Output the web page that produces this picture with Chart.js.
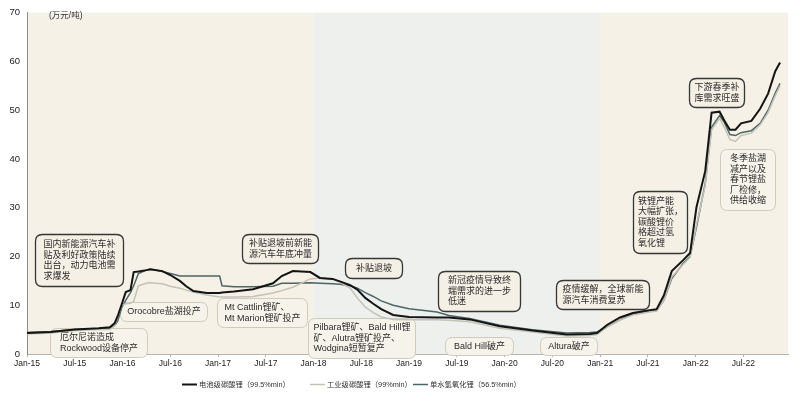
<!DOCTYPE html>
<html><head><meta charset="utf-8">
<script src="https://cdn.jsdelivr.net/npm/chart.js@4.4.0/dist/chart.umd.min.js"></script>
<style>html,body{margin:0;padding:0;background:#fff;}canvas{display:block}</style>
</head><body>
<canvas id="c" width="800" height="394"></canvas>
<script>
// months since Jan-2015
const months = [0,3,6,9,10.4,11,11.4,11.9,12.4,13,13.4,14,15,15.5,17,18,19.2,20,20.9,22.6,24.2,24.5,26,28.4,30.9,32,33.4,35.6,36.8,38.4,39.3,40.6,41.5,42.5,43.5,44.5,46,48,51.5,53,55.6,59.4,63.5,67.8,70.7,71.6,72.9,74.5,76.1,78.2,79.1,80,81,82.4,83.3,84.1,85.2,86,87,87.6,88.3,89,89.7,91,92.1,93.1,94,94.6];
const batteryCarbonate = [4.3,4.5,5.0,5.3,5.5,6.3,7.8,10.2,12.7,13.1,16.8,16.9,17.2,17.4,17.0,16.2,15.0,13.9,12.9,12.5,12.5,12.6,12.8,13.3,14.5,16.0,17.0,16.8,15.6,15.4,14.9,14.1,13.2,11.5,10.3,9.2,8.0,7.6,7.5,7.5,7.1,5.7,4.8,4.0,4.1,4.3,6.0,7.5,8.4,9.0,9.2,12.0,17.0,19.2,20.7,30.1,37.5,49.5,49.7,47.9,46.0,46.0,47.3,47.8,50.3,53.4,58.0,59.8];
const industrialCarbonate = [4.1,4.3,4.8,5.0,5.0,5.8,7.6,10.0,10.3,10.4,10.8,14.0,14.5,14.6,14.4,13.9,13.5,13.1,12.7,12.1,11.7,11.7,11.7,11.8,12.5,13.0,13.7,15.4,15.6,15.3,14.7,13.5,11.5,9.6,8.5,7.6,7.1,7.0,7.0,6.9,6.6,5.3,4.5,3.7,3.8,4.0,5.5,7.0,8.0,8.6,8.8,11.0,15.8,18.3,19.8,26.5,34.5,46.0,48.3,46.5,44.0,43.6,44.8,45.3,47.0,49.5,53.0,55.0];
const hydroxide = [4.4,4.6,5.0,5.2,5.3,5.8,6.8,9.5,11.0,12.6,14.0,16.5,17.2,17.4,16.9,16.5,16.0,16.0,16.0,16.0,16.0,14.0,13.8,13.8,13.9,14.5,14.5,14.6,14.5,14.4,14.3,14.0,13.5,12.6,11.8,10.9,10.0,9.3,8.6,7.9,7.3,5.9,5.0,4.3,4.4,4.5,5.6,7.0,8.2,8.8,8.9,11.0,15.5,18.5,20.0,26.0,35.0,46.5,48.9,47.5,45.0,44.8,45.4,45.8,47.3,50.0,53.5,55.5];
const tickLabels = ['Jan-15','Jul-15','Jan-16','Jul-16','Jan-17','Jul-17','Jan-18','Jul-18','Jan-19','Jul-19','Jan-20','Jul-20','Jan-21','Jul-21','Jan-22','Jul-22'];
const seriesNames = ['电池级碳酸锂（99.5%min）','工业级碳酸锂（99%min）','单水氢氧化锂（56.5%min）'];
const unitLabel = '(万元/吨)';
const bandRange = [36, 72];

const annotations = [
 {m:1.0, v:24.6, w:88, h:52, dark:1, lines:['国内新能源汽车补','贴及利好政策陆续','出台，动力电池需','求爆发']},
 {m:2.9, v:5.3, w:97, h:29, dark:0, lines:['厄尔尼诺造成','Rockwood设备停产']},
 {m:11.7, v:10.6, w:87, h:19, dark:0, lines:['Orocobre盐湖投产']},
 {m:23.9, v:11.4, w:90, h:29, dark:0, lines:['Mt Cattlin锂矿、','Mt Marion锂矿投产']},
 {m:27.0, v:24.6, w:76, h:29, dark:1, lines:['补贴退坡前新能','源汽车年底冲量']},
 {m:39.9, v:19.7, w:57, h:20, dark:1, lines:['补贴退坡']},
 {m:35.3, v:7.3, w:107, h:40, dark:0, lines:['Pilbara锂矿、Bald Hill锂','矿、Alutra锂矿投产、','Wodgina短暂复产']},
 {m:51.6, v:17.1, w:82, h:40, dark:1, lines:['新冠疫情导致终','端需求的进一步','低迷']},
 {m:52.5, v:3.5, w:68, h:18, dark:0, lines:['Bald Hill破产']},
 {m:64.4, v:3.5, w:57, h:18, dark:0, lines:['Altura破产']},
 {m:66.5, v:15.1, w:93, h:29, dark:1, lines:['疫情缓解，全球新能','源汽车消费复苏']},
 {m:76.1, v:33.4, w:54, h:62, dark:1, lines:['铁锂产能','大幅扩张，','碳酸锂价','格超过氢','氧化锂']},
 {m:83.2, v:56.6, w:55, h:29, dark:1, lines:['下游春季补','库需求旺盛']},
 {m:87.0, v:42.1, w:55, h:61, dark:0, lines:['冬季盐湖','减产以及','春节锂盐','厂检修，','供给收缩']}
];

const FONT = "'Liberation Sans','Noto Sans CJK SC',sans-serif";
const colors = ['#141414', '#c3c2b8', '#4d6664'];

function rr(ctx, x, y, w, h, r){
  ctx.beginPath();
  ctx.moveTo(x+r,y); ctx.lineTo(x+w-r,y); ctx.quadraticCurveTo(x+w,y,x+w,y+r);
  ctx.lineTo(x+w,y+h-r); ctx.quadraticCurveTo(x+w,y+h,x+w-r,y+h);
  ctx.lineTo(x+r,y+h); ctx.quadraticCurveTo(x,y+h,x,y+h-r);
  ctx.lineTo(x,y+r); ctx.quadraticCurveTo(x,y,x+r,y); ctx.closePath();
}

const deco = {
  id:'deco',
  beforeDraw(chart){
    const {ctx, chartArea:a, scales:{x}} = chart;
    ctx.save();
    ctx.fillStyle='#f5f1e6';
    ctx.fillRect(a.left,a.top,a.right-a.left,a.bottom-a.top);
    const b0=x.getPixelForValue(bandRange[0]), b1=x.getPixelForValue(bandRange[1]);
    ctx.fillStyle='#eef0ee';
    ctx.fillRect(b0,a.top,b1-b0,a.bottom-a.top);
    ctx.restore();
  },
  beforeDatasetsDraw(chart){
    const {ctx, scales:{x,y}} = chart;
    ctx.save();
    ctx.font = "9px " + FONT;
    ctx.textBaseline='middle';
    for(const an of annotations){
      const L = Math.round(x.getPixelForValue(an.m))+0.5, T = Math.round(y.getPixelForValue(an.v))+0.5;
      rr(ctx, L, T, an.w, an.h, 7);
      ctx.fillStyle = an.dark ? '#f4f0e5' : '#f6f3ea';
      ctx.fill();
      ctx.lineWidth = an.dark ? 1.3 : 1;
      ctx.strokeStyle = an.dark ? '#363636' : '#cfcabc';
      ctx.stroke();
      const lh = 10.5;
      const mw = Math.max(...an.lines.map(s=>ctx.measureText(s).width));
      const sx = L + (an.w - mw)/2;
      const cy = T + an.h/2 - (an.lines.length-1)*lh/2;
      ctx.fillStyle='#2c2a2a';
      an.lines.forEach((s,i)=>ctx.fillText(s, sx, cy + i*lh));
    }
    ctx.restore();
  },
  afterDraw(chart){
    const {ctx} = chart;
    ctx.save();
    ctx.fillStyle='#333';
    ctx.font = "8.5px " + FONT;
    ctx.textBaseline='middle';
    ctx.fillText(unitLabel, 49, 16);
    // legend
    ctx.font = "7.3px " + FONT;
    const starts = [182, 310, 413], sw = 15, sg = 2;
    seriesNames.forEach((name,i)=>{
      const xx = starts[i];
      ctx.strokeStyle = colors[i];
      ctx.lineWidth = i===0 ? 2 : 1.5;
      ctx.beginPath(); ctx.moveTo(xx,384.5); ctx.lineTo(xx+sw,384.5); ctx.stroke();
      ctx.fillStyle='#333';
      ctx.fillText(name, xx+sw+sg, 385);
    });
    ctx.restore();
  }
};

const mk = (vals) => months.map((m,i)=>({x:m, y:vals[i]}));

new Chart(document.getElementById('c'), {
  type:'line',
  data:{datasets:[
    {label:seriesNames[0], data:mk(batteryCarbonate), borderColor:colors[0], borderWidth:2, pointRadius:0, tension:0},
    {label:seriesNames[1], data:mk(industrialCarbonate), borderColor:colors[1], borderWidth:1.5, pointRadius:0, tension:0},
    {label:seriesNames[2], data:mk(hydroxide), borderColor:colors[2], borderWidth:1.5, pointRadius:0, tension:0}
  ]},
  options:{
    responsive:false, animation:false,
    layout:{padding:{top:10,right:12,left:0,bottom:0}},
    plugins:{legend:{display:false}, tooltip:{enabled:false}},
    scales:{
      x:{type:'linear', min:0, max:95.6,
        afterBuildTicks(s){ s.ticks = tickLabels.map((_,i)=>({value:i*6})); },
        afterFit(s){ s.height = 40; },
        grid:{drawOnChartArea:false, drawTicks:true, tickLength:3, color:'#b5b5b0'},
        border:{color:'#b5b5b0'},
        ticks:{autoSkip:false, maxRotation:0, padding:2, color:'#222', font:{family:FONT, size:8.5},
          callback:(v)=>tickLabels[Math.round(v/6)] }
      },
      y:{min:0, max:70,
        afterFit(s){ s.width = 27; },
        grid:{display:false, drawTicks:false},
        border:{color:'#8c8c88'},
        ticks:{stepSize:10, padding:7, color:'#222', font:{family:FONT, size:9.5}}
      }
    }
  },
  plugins:[deco]
});
</script>
</body></html>
